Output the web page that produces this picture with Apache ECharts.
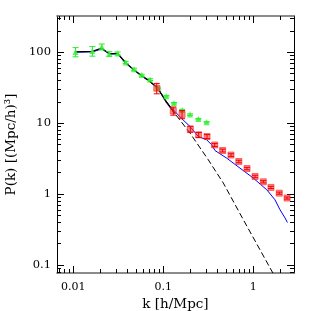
<!DOCTYPE html>
<html><head><meta charset="utf-8">
<script src="https://cdn.jsdelivr.net/npm/echarts@6/dist/echarts.min.js"></script>
<style>html,body{margin:0;padding:0;background:#fff}#c{width:311px;height:311px}</style>
</head><body><div id="c"></div>
<script>
// ---- data (k in h/Mpc, P in (Mpc/h)^3) ----
const greenK   = [0.0106, 0.0163, 0.0207, 0.0251, 0.0311, 0.0382, 0.0472, 0.0575, 0.0712, 0.0873, 0.108, 0.1315, 0.162, 0.198, 0.245, 0.303];
const greenP   = [101, 104, 119, 94.6, 96.2, 71.8, 57.7, 47.6, 41.1, 31.4, 24.0, 19.1, 15.3, 13.2, 11.4, 10.3];
const greenErr = [15, 16, 11.5, 7, 4.5, 2.5, 1.8, 1.4, 1.2, 0.9, 0.6, 0.45, 0.35, 0.3, 0.25, 0.2];

const redK   = [0.0845, 0.129, 0.1615, 0.1995, 0.247, 0.306, 0.372, 0.456, 0.565, 0.69, 0.851, 1.045, 1.29, 1.57, 1.94, 2.37];
const redP   = [31.1, 14.9, 13.3, 8.23, 6.84, 6.47, 4.92, 4.11, 3.55, 2.88, 2.29, 1.77, 1.49, 1.24, 1.03, 0.879];
const redErr = [5.2, 1.95, 1.75, 0.8, 0.55, 0.42, 0.23, 0.19, 0.15, 0.12, 0.09, 0.07, 0.055, 0.045, 0.035, 0.03];

const blueK = [0.0104, 0.0163, 0.0207, 0.0251, 0.0311, 0.0382, 0.0472, 0.0575, 0.068, 0.087, 0.108, 0.129, 0.16, 0.198, 0.245, 0.303, 0.345, 0.375, 0.506, 0.711, 1.0, 1.2, 1.41, 1.74, 1.98, 2.25, 2.39];
const blueP = [100, 101, 111, 95, 94, 70, 56, 46, 40.6, 31, 20, 15.4, 11.6, 8.96, 6.47, 5.82, 4.95, 4.11, 3.21, 2.32, 1.68, 1.37, 1.15, 0.83, 0.60, 0.46, 0.398];

const blackK = [0.0104, 0.0163, 0.0207, 0.0251, 0.0311, 0.0382, 0.0472, 0.0575, 0.0712, 0.087, 0.108, 0.135];
const blackP = [101, 103, 114, 95, 96, 71, 56, 46.8, 38.5, 31, 19.8, 13.5];

const dashK = [0.068, 0.087, 0.129, 0.198, 0.316, 0.464, 0.774, 1.535, 2.0];
const dashP = [40.6, 30.5, 14.6, 7.23, 3.04, 1.43, 0.435, 0.0908, 0.0495];

const xMajorTicks = [0.01, 0.1, 1];
const xMinorTicks = [0.007, 0.008, 0.009, 0.02, 0.03, 0.04, 0.05, 0.06, 0.07, 0.08, 0.09,
                     0.2, 0.3, 0.4, 0.5, 0.6, 0.7, 0.8, 0.9, 2];
const yMajorTicks = [0.1, 1, 10, 100];
const yMinorTicks = [0.08, 0.09, 0.2, 0.3, 0.4, 0.5, 0.6, 0.7, 0.8, 0.9,
                     2, 3, 4, 5, 6, 7, 8, 9, 20, 30, 40, 50, 60, 70, 80, 90, 200, 300];
const xRange = [0.00659, 2.83];
const yRange = [0.0771, 324];

// ---- build ----
const L = Math.log10;
const X0 = L(xRange[0]), X1 = L(xRange[1]), Y0 = L(yRange[0]), Y1 = L(yRange[1]);
const fmt = v => String(Number(Math.pow(10, v).toPrecision(1)));
const FONT = 'DejaVu Serif';

function axis(pos, lo, hi, ticks, len, line, label, extra) {
  const t = ticks.map(L).filter(v => v >= lo && v <= hi);
  const horiz = (pos === 'top' || pos === 'bottom');
  return Object.assign({
    type: 'value', position: pos, min: lo, max: hi,
    splitLine: {show: false},
    axisLine: {show: line, onZero: false, lineStyle: {color: horiz ? '#666' : '#000', width: horiz ? 1.6 : 1}},
    axisTick: {show: true, inside: true, length: len, customValues: t, lineStyle: {color: '#000', width: 1}},
    axisLabel: {show: label, customValues: t, formatter: fmt, margin: pos === 'bottom' ? 9 : 6,
                fontFamily: FONT, fontSize: horiz ? 11 : 11.5, color: '#000'}
  }, extra || {});
}

const xAxes = [
  axis('bottom', X0, X1, xMajorTicks, 7, true, true, {
    name: 'k [h/Mpc]', nameLocation: 'middle', nameGap: 23,
    nameTextStyle: {fontFamily: FONT, fontSize: 13.5, color: '#000'}}),
  axis('bottom', X0, X1, xMinorTicks, 4, false, false),
  axis('top', X0, X1, xMajorTicks, 7, true, false),
  axis('top', X0, X1, xMinorTicks, 4, false, false)
];
const yAxes = [
  axis('left', Y0, Y1, yMajorTicks, 7, true, true, {
    name: 'P(k) [(Mpc/h)³]', nameLocation: 'middle', nameGap: 27,
    nameTextStyle: {fontFamily: FONT, fontSize: 13.5, color: '#000'}}),
  axis('left', Y0, Y1, yMinorTicks, 4, false, false),
  axis('right', Y0, Y1, yMajorTicks, 7, true, false),
  axis('right', Y0, Y1, yMinorTicks, 4, false, false)
];

const pts = (ks, ps) => ks.map((k, i) => [L(k), L(ps[i])]);
const errs = (ks, ps, es) => ks.map((k, i) => [L(k), L(Math.max(ps[i] - es[i], 1e-6)), L(ps[i] + es[i])]);

function errRender(color, cap) {
  return function (params, api) {
    const x = api.value(0);
    const a = api.coord([x, api.value(1)]);
    const b = api.coord([x, api.value(2)]);
    const st = {stroke: color, lineWidth: 1};
    return {type: 'group', children: [
      {type: 'line', shape: {x1: a[0], y1: a[1], x2: b[0], y2: b[1]}, style: st},
      {type: 'line', shape: {x1: a[0] - cap, y1: a[1], x2: a[0] + cap, y2: a[1]}, style: st},
      {type: 'line', shape: {x1: b[0] - cap, y1: b[1], x2: b[0] + cap, y2: b[1]}, style: st}
    ]};
  };
}

const chart = echarts.init(document.getElementById('c'), null, {renderer: 'canvas'});
chart.setOption({
  animation: false,
  backgroundColor: '#fff',
  grid: {left: 57, right: 17, top: 16, bottom: 38, containLabel: false, outerBoundsMode: 'none'},
  xAxis: xAxes,
  yAxis: yAxes,
  series: [
    {type: 'line', data: pts(blueK, blueP), showSymbol: false, symbol: 'none', clip: true,
     lineStyle: {color: '#0000ff', width: 1}, z: 2},
    {type: 'line', data: pts(dashK, dashP), showSymbol: false, symbol: 'none', clip: true,
     lineStyle: {color: '#000', width: 1, type: [6, 3]}, z: 2},
    {type: 'line', data: pts(blackK, blackP), showSymbol: false, symbol: 'none', clip: true,
     lineStyle: {color: '#000', width: 1.3}, z: 3},
    {type: 'custom', data: errs(greenK, greenP, greenErr), renderItem: errRender('#22ee22', 3), z: 4},
    {type: 'scatter', data: pts(greenK, greenP), symbol: 'triangle', symbolSize: 6,
     itemStyle: {color: '#33f033'}, z: 5},
    {type: 'scatter', data: pts(redK, redP), symbol: 'rect', symbolSize: 6,
     itemStyle: {color: 'rgba(255,50,50,0.7)', borderColor: '#ff2a2a', borderWidth: 0.8}, z: 6},
    {type: 'custom', data: errs(redK, redP, redErr), renderItem: errRender('#ee0000', 3), z: 7}
  ]
});
</script>
</body></html>
